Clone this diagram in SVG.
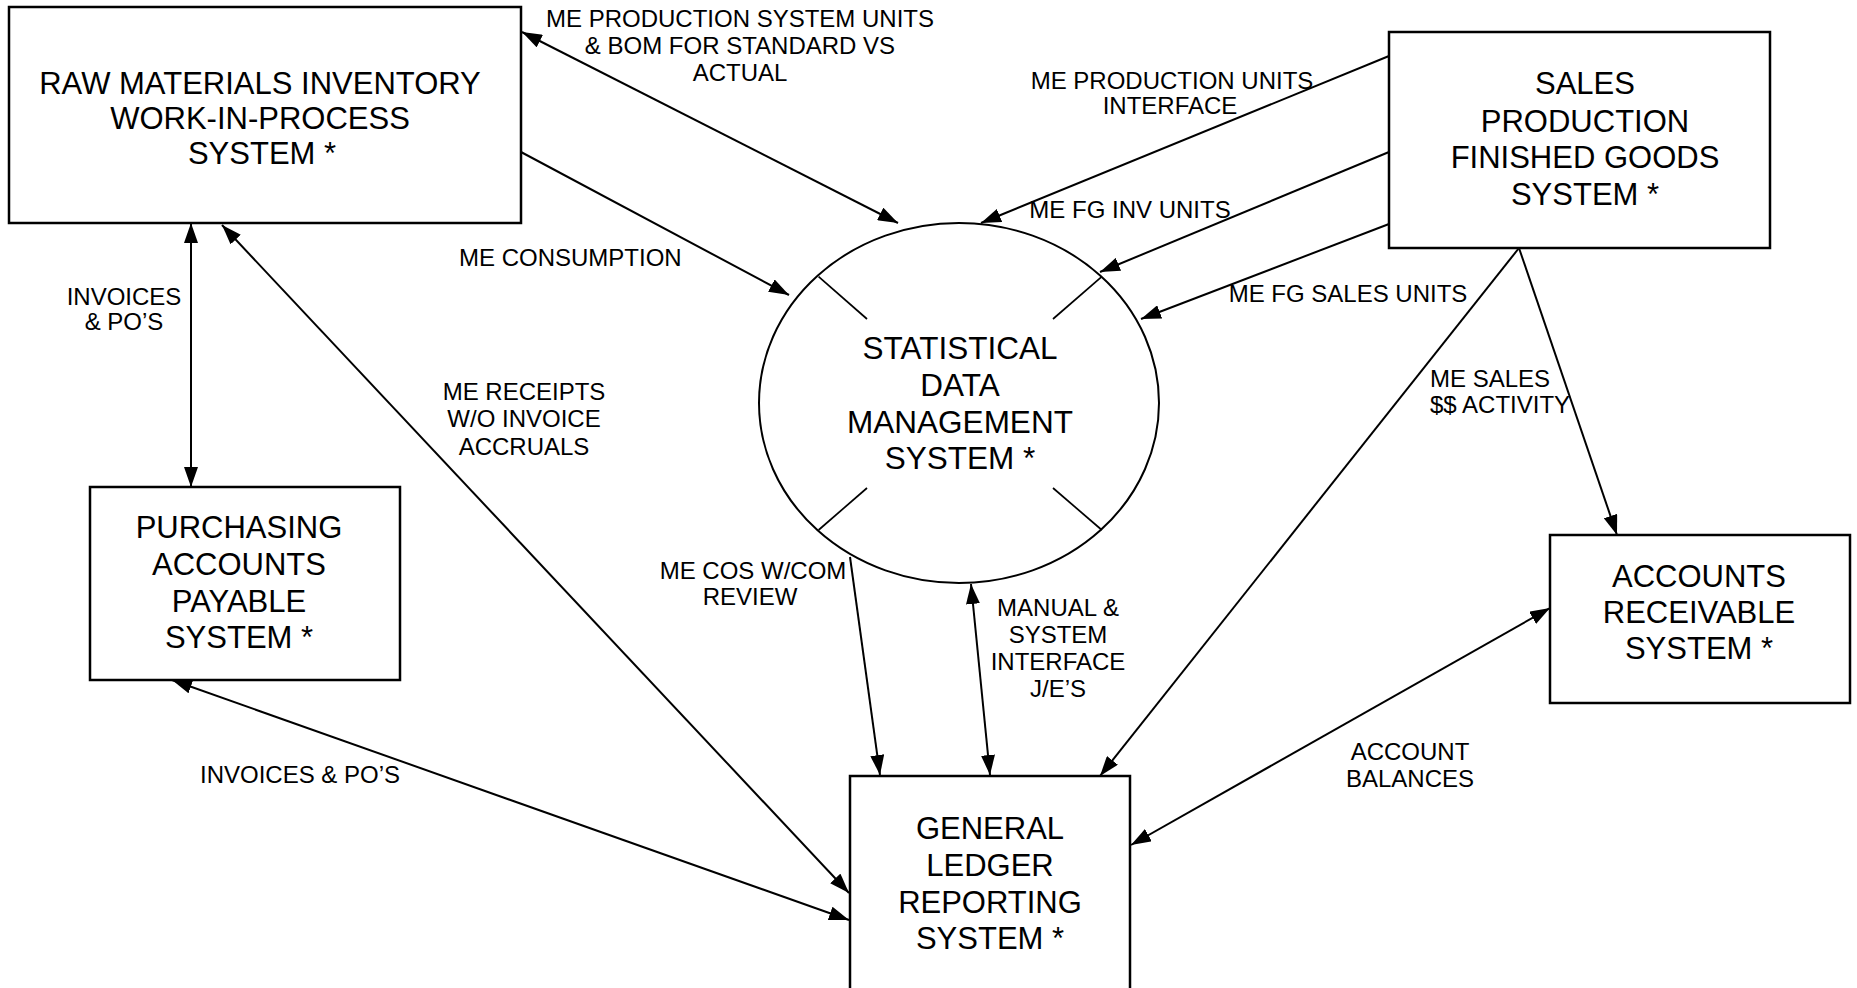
<svg xmlns="http://www.w3.org/2000/svg" width="1857" height="988" viewBox="0 0 1857 988">
<style>
  .box { fill: #fff; stroke: #000; stroke-width: 2.5; }
  .ell { fill: #fff; stroke: #000; stroke-width: 2; }
  .tick { stroke: #000; stroke-width: 1.7; fill: none; }
  .node { font-family: "Liberation Sans", Arial, sans-serif; font-size: 31px; fill: #000; text-anchor: middle; }
  .lbl { font-family: "Liberation Sans", Arial, sans-serif; font-size: 24px; fill: #000; text-anchor: middle; }
  .lbl-l { text-anchor: start; }
  .conn line { stroke: #000; stroke-width: 2; fill: none; }
  .one { marker-end: url(#arr); }
  .two { marker-start: url(#arr); marker-end: url(#arr); }
</style>
<defs>
  <marker id="arr" viewBox="0 0 20 14" refX="20" refY="7" markerWidth="20" markerHeight="14" markerUnits="userSpaceOnUse" orient="auto-start-reverse">
    <path d="M0,0 L20,7 L0,14 z" fill="#000"/>
  </marker>
</defs>
<rect width="1857" height="988" fill="#fff"/>

<g id="connectors" class="conn">
  <line class="two" x1="522" y1="32" x2="898" y2="223"/>
  <line class="one" x1="521" y1="152" x2="789" y2="295"/>
  <line class="one" x1="1389" y1="56" x2="981" y2="223"/>
  <line class="one" x1="1389" y1="152" x2="1100" y2="272"/>
  <line class="one" x1="1389" y1="224" x2="1141" y2="319"/>
  <line class="one" x1="1519" y1="248" x2="1617" y2="535"/>
  <line class="one" x1="1519" y1="248" x2="1100" y2="776"/>
  <line class="one" x1="850" y1="557" x2="880" y2="775"/>
  <line class="two" x1="971" y1="584" x2="990" y2="775"/>
  <line class="two" x1="222" y1="225" x2="849" y2="893"/>
  <line class="two" x1="191" y1="223" x2="191" y2="487"/>
  <line class="two" x1="172" y1="680" x2="849" y2="920"/>
  <line class="two" x1="1131" y1="845" x2="1550" y2="608"/>
</g>

<g id="labels">
  <text class="lbl"><tspan x="740" y="27">ME PRODUCTION SYSTEM UNITS</tspan><tspan x="740" y="54">&amp; BOM FOR STANDARD VS</tspan><tspan x="740" y="81">ACTUAL</tspan></text>
  <text class="lbl lbl-l" x="459" y="266">ME CONSUMPTION</text>
  <text class="lbl"><tspan x="124" y="305">INVOICES</tspan><tspan x="124" y="330">&amp; PO’S</tspan></text>
  <text class="lbl"><tspan x="524" y="400">ME RECEIPTS</tspan><tspan x="524" y="427">W/O INVOICE</tspan><tspan x="524" y="455">ACCRUALS</tspan></text>
  <text class="lbl"><tspan x="1172" y="89">ME PRODUCTION UNITS</tspan><tspan x="1170" y="114">INTERFACE</tspan></text>
  <text class="lbl" x="1130" y="218">ME FG INV UNITS</text>
  <text class="lbl" x="1348" y="302">ME FG SALES UNITS</text>
  <text class="lbl lbl-l"><tspan x="1430" y="387">ME SALES</tspan><tspan x="1430" y="413">$$ ACTIVITY</tspan></text>
  <text class="lbl"><tspan x="753" y="579">ME COS W/COM</tspan><tspan x="750" y="605">REVIEW</tspan></text>
  <text class="lbl"><tspan x="1058" y="616">MANUAL &amp;</tspan><tspan x="1058" y="643">SYSTEM</tspan><tspan x="1058" y="670">INTERFACE</tspan><tspan x="1058" y="697">J/E’S</tspan></text>
  <text class="lbl lbl-l" x="200" y="783">INVOICES &amp; PO’S</text>
  <text class="lbl"><tspan x="1410" y="760">ACCOUNT</tspan><tspan x="1410" y="787">BALANCES</tspan></text>
</g>

<g id="rm">
  <rect class="box" x="9" y="7" width="512" height="216"/>
  <text class="node"><tspan x="260" y="94">RAW MATERIALS INVENTORY</tspan><tspan x="260" y="129">WORK-IN-PROCESS</tspan><tspan x="262" y="164">SYSTEM *</tspan></text>
</g>

<g id="sales">
  <rect class="box" x="1389" y="32" width="381" height="216"/>
  <text class="node"><tspan x="1585" y="94">SALES</tspan><tspan x="1585" y="132">PRODUCTION</tspan><tspan x="1585" y="168">FINISHED GOODS</tspan><tspan x="1585" y="205">SYSTEM *</tspan></text>
</g>

<g id="pap">
  <rect class="box" x="90" y="487" width="310" height="193"/>
  <text class="node"><tspan x="239" y="538">PURCHASING</tspan><tspan x="239" y="575">ACCOUNTS</tspan><tspan x="239" y="612">PAYABLE</tspan><tspan x="239" y="648">SYSTEM *</tspan></text>
</g>

<g id="sdms">
  <ellipse class="ell" cx="959" cy="403" rx="200" ry="180"/>
  <line class="tick" x1="818.6" y1="276.7" x2="867" y2="319"/>
  <line class="tick" x1="1101.8" y1="276.7" x2="1053" y2="319"/>
  <line class="tick" x1="818.6" y1="530" x2="867" y2="488"/>
  <line class="tick" x1="1101.8" y1="530" x2="1053" y2="488"/>
  <text class="node" style="font-size:31.5px"><tspan x="960" y="359">STATISTICAL</tspan><tspan x="960" y="396">DATA</tspan><tspan x="960" y="433">MANAGEMENT</tspan><tspan x="960" y="469">SYSTEM *</tspan></text>
</g>

<g id="ar">
  <rect class="box" x="1550" y="535" width="300" height="168"/>
  <text class="node"><tspan x="1699" y="587">ACCOUNTS</tspan><tspan x="1699" y="623">RECEIVABLE</tspan><tspan x="1699" y="659">SYSTEM *</tspan></text>
</g>

<g id="gl">
  <rect class="box" x="850" y="776" width="280" height="240"/>
  <text class="node"><tspan x="990" y="839">GENERAL</tspan><tspan x="990" y="876">LEDGER</tspan><tspan x="990" y="913">REPORTING</tspan><tspan x="990" y="949">SYSTEM *</tspan></text>
</g>
</svg>
